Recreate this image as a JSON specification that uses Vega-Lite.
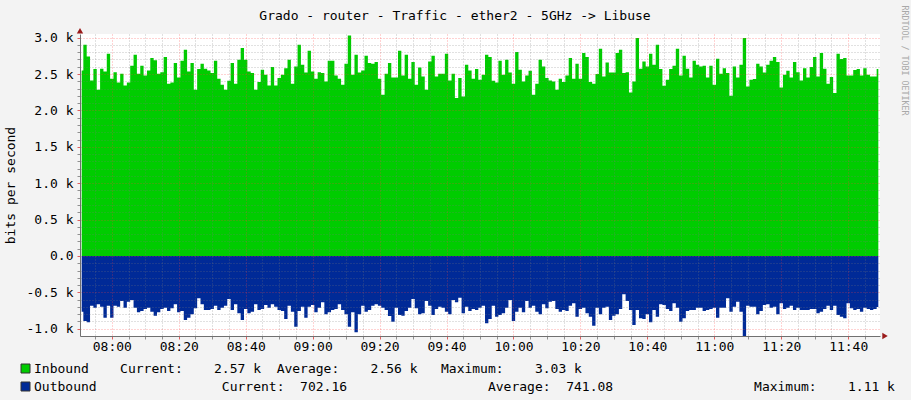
{
  "$schema": "https://vega.github.io/schema/vega-lite/v6.json",
  "description": "RRDtool style traffic graph: inbound above zero, outbound mirrored below.",
  "background": "#f3f3f3",
  "autosize": {"type": "none"},
  "padding": {"left": 80, "top": 34, "right": 31, "bottom": 64},
  "width": 800,
  "height": 302,
  "title": {
    "text": "Grado - router - Traffic - ether2 - 5GHz -> Libuse",
    "font": "DejaVu Sans Mono",
    "fontSize": 13,
    "fontWeight": "normal",
    "color": "#000000",
    "anchor": "middle",
    "frame": "group",
    "dx": -25,
    "dy": 28,
    "offset": 10
  },
  "data": {
    "values": [
      {"time": "2024-01-01T07:51", "inbound": 2549, "outbound": -766},
      {"time": "2024-01-01T07:52", "inbound": 2902, "outbound": -894},
      {"time": "2024-01-01T07:53", "inbound": 2742, "outbound": -912},
      {"time": "2024-01-01T07:54", "inbound": 2412, "outbound": -683},
      {"time": "2024-01-01T07:55", "inbound": 2568, "outbound": -711},
      {"time": "2024-01-01T07:56", "inbound": 2283, "outbound": -665},
      {"time": "2024-01-01T07:57", "inbound": 2572, "outbound": -697},
      {"time": "2024-01-01T07:58", "inbound": 2536, "outbound": -848},
      {"time": "2024-01-01T07:59", "inbound": 2779, "outbound": -683},
      {"time": "2024-01-01T08:00", "inbound": 2435, "outbound": -848},
      {"time": "2024-01-01T08:01", "inbound": 2526, "outbound": -683},
      {"time": "2024-01-01T08:02", "inbound": 2384, "outbound": -697},
      {"time": "2024-01-01T08:03", "inbound": 2503, "outbound": -619},
      {"time": "2024-01-01T08:04", "inbound": 2343, "outbound": -711},
      {"time": "2024-01-01T08:05", "inbound": 2384, "outbound": -628},
      {"time": "2024-01-01T08:06", "inbound": 2613, "outbound": -605},
      {"time": "2024-01-01T08:07", "inbound": 2765, "outbound": -711},
      {"time": "2024-01-01T08:08", "inbound": 2503, "outbound": -775},
      {"time": "2024-01-01T08:09", "inbound": 2613, "outbound": -757},
      {"time": "2024-01-01T08:10", "inbound": 2481, "outbound": -729},
      {"time": "2024-01-01T08:11", "inbound": 2549, "outbound": -711},
      {"time": "2024-01-01T08:12", "inbound": 2719, "outbound": -766},
      {"time": "2024-01-01T08:13", "inbound": 2691, "outbound": -821},
      {"time": "2024-01-01T08:14", "inbound": 2503, "outbound": -775},
      {"time": "2024-01-01T08:15", "inbound": 2526, "outbound": -729},
      {"time": "2024-01-01T08:16", "inbound": 2733, "outbound": -711},
      {"time": "2024-01-01T08:17", "inbound": 2366, "outbound": -757},
      {"time": "2024-01-01T08:18", "inbound": 2384, "outbound": -720},
      {"time": "2024-01-01T08:19", "inbound": 2650, "outbound": -665},
      {"time": "2024-01-01T08:20", "inbound": 2453, "outbound": -775},
      {"time": "2024-01-01T08:21", "inbound": 2682, "outbound": -757},
      {"time": "2024-01-01T08:22", "inbound": 2834, "outbound": -880},
      {"time": "2024-01-01T08:23", "inbound": 2536, "outbound": -848},
      {"time": "2024-01-01T08:24", "inbound": 2650, "outbound": -802},
      {"time": "2024-01-01T08:25", "inbound": 2283, "outbound": -720},
      {"time": "2024-01-01T08:26", "inbound": 2568, "outbound": -582},
      {"time": "2024-01-01T08:27", "inbound": 2641, "outbound": -665},
      {"time": "2024-01-01T08:28", "inbound": 2572, "outbound": -743},
      {"time": "2024-01-01T08:29", "inbound": 2549, "outbound": -743},
      {"time": "2024-01-01T08:30", "inbound": 2513, "outbound": -729},
      {"time": "2024-01-01T08:31", "inbound": 2682, "outbound": -683},
      {"time": "2024-01-01T08:32", "inbound": 2435, "outbound": -743},
      {"time": "2024-01-01T08:33", "inbound": 2352, "outbound": -711},
      {"time": "2024-01-01T08:34", "inbound": 2283, "outbound": -683},
      {"time": "2024-01-01T08:35", "inbound": 2407, "outbound": -592},
      {"time": "2024-01-01T08:36", "inbound": 2650, "outbound": -743},
      {"time": "2024-01-01T08:37", "inbound": 2366, "outbound": -665},
      {"time": "2024-01-01T08:38", "inbound": 2696, "outbound": -789},
      {"time": "2024-01-01T08:39", "inbound": 2857, "outbound": -880},
      {"time": "2024-01-01T08:40", "inbound": 2696, "outbound": -729},
      {"time": "2024-01-01T08:41", "inbound": 2536, "outbound": -789},
      {"time": "2024-01-01T08:42", "inbound": 2513, "outbound": -766},
      {"time": "2024-01-01T08:43", "inbound": 2283, "outbound": -665},
      {"time": "2024-01-01T08:44", "inbound": 2389, "outbound": -743},
      {"time": "2024-01-01T08:45", "inbound": 2559, "outbound": -729},
      {"time": "2024-01-01T08:46", "inbound": 2490, "outbound": -674},
      {"time": "2024-01-01T08:47", "inbound": 2343, "outbound": -711},
      {"time": "2024-01-01T08:48", "inbound": 2595, "outbound": -665},
      {"time": "2024-01-01T08:49", "inbound": 2343, "outbound": -697},
      {"time": "2024-01-01T08:50", "inbound": 2444, "outbound": -743},
      {"time": "2024-01-01T08:51", "inbound": 2490, "outbound": -757},
      {"time": "2024-01-01T08:52", "inbound": 2581, "outbound": -867},
      {"time": "2024-01-01T08:53", "inbound": 2696, "outbound": -683},
      {"time": "2024-01-01T08:54", "inbound": 2366, "outbound": -766},
      {"time": "2024-01-01T08:55", "inbound": 2604, "outbound": -972},
      {"time": "2024-01-01T08:56", "inbound": 2902, "outbound": -757},
      {"time": "2024-01-01T08:57", "inbound": 2627, "outbound": -697},
      {"time": "2024-01-01T08:58", "inbound": 2522, "outbound": -848},
      {"time": "2024-01-01T08:59", "inbound": 2820, "outbound": -697},
      {"time": "2024-01-01T09:00", "inbound": 2536, "outbound": -674},
      {"time": "2024-01-01T09:01", "inbound": 2435, "outbound": -775},
      {"time": "2024-01-01T09:02", "inbound": 2526, "outbound": -711},
      {"time": "2024-01-01T09:03", "inbound": 2513, "outbound": -637},
      {"time": "2024-01-01T09:04", "inbound": 2398, "outbound": -802},
      {"time": "2024-01-01T09:05", "inbound": 2682, "outbound": -775},
      {"time": "2024-01-01T09:06", "inbound": 2682, "outbound": -743},
      {"time": "2024-01-01T09:07", "inbound": 2481, "outbound": -729},
      {"time": "2024-01-01T09:08", "inbound": 2435, "outbound": -665},
      {"time": "2024-01-01T09:09", "inbound": 2352, "outbound": -743},
      {"time": "2024-01-01T09:10", "inbound": 2641, "outbound": -802},
      {"time": "2024-01-01T09:11", "inbound": 3031, "outbound": -972},
      {"time": "2024-01-01T09:12", "inbound": 2490, "outbound": -775},
      {"time": "2024-01-01T09:13", "inbound": 2765, "outbound": -1050},
      {"time": "2024-01-01T09:14", "inbound": 2522, "outbound": -802},
      {"time": "2024-01-01T09:15", "inbound": 2549, "outbound": -683},
      {"time": "2024-01-01T09:16", "inbound": 2751, "outbound": -766},
      {"time": "2024-01-01T09:17", "inbound": 2650, "outbound": -743},
      {"time": "2024-01-01T09:18", "inbound": 2641, "outbound": -683},
      {"time": "2024-01-01T09:19", "inbound": 2664, "outbound": -665},
      {"time": "2024-01-01T09:20", "inbound": 2435, "outbound": -683},
      {"time": "2024-01-01T09:21", "inbound": 2215, "outbound": -711},
      {"time": "2024-01-01T09:22", "inbound": 2503, "outbound": -743},
      {"time": "2024-01-01T09:23", "inbound": 2650, "outbound": -825},
      {"time": "2024-01-01T09:24", "inbound": 2453, "outbound": -903},
      {"time": "2024-01-01T09:25", "inbound": 2453, "outbound": -711},
      {"time": "2024-01-01T09:26", "inbound": 2820, "outbound": -812},
      {"time": "2024-01-01T09:27", "inbound": 2481, "outbound": -821},
      {"time": "2024-01-01T09:28", "inbound": 2765, "outbound": -757},
      {"time": "2024-01-01T09:29", "inbound": 2435, "outbound": -711},
      {"time": "2024-01-01T09:30", "inbound": 2664, "outbound": -592},
      {"time": "2024-01-01T09:31", "inbound": 2352, "outbound": -720},
      {"time": "2024-01-01T09:32", "inbound": 2591, "outbound": -802},
      {"time": "2024-01-01T09:33", "inbound": 2467, "outbound": -789},
      {"time": "2024-01-01T09:34", "inbound": 2283, "outbound": -619},
      {"time": "2024-01-01T09:35", "inbound": 2673, "outbound": -683},
      {"time": "2024-01-01T09:36", "inbound": 2751, "outbound": -812},
      {"time": "2024-01-01T09:37", "inbound": 2467, "outbound": -729},
      {"time": "2024-01-01T09:38", "inbound": 2503, "outbound": -697},
      {"time": "2024-01-01T09:39", "inbound": 2503, "outbound": -711},
      {"time": "2024-01-01T09:40", "inbound": 2779, "outbound": -766},
      {"time": "2024-01-01T09:41", "inbound": 2412, "outbound": -802},
      {"time": "2024-01-01T09:42", "inbound": 2503, "outbound": -605},
      {"time": "2024-01-01T09:43", "inbound": 2169, "outbound": -637},
      {"time": "2024-01-01T09:44", "inbound": 2444, "outbound": -573},
      {"time": "2024-01-01T09:45", "inbound": 2192, "outbound": -789},
      {"time": "2024-01-01T09:46", "inbound": 2627, "outbound": -697},
      {"time": "2024-01-01T09:47", "inbound": 2549, "outbound": -757},
      {"time": "2024-01-01T09:48", "inbound": 2435, "outbound": -729},
      {"time": "2024-01-01T09:49", "inbound": 2568, "outbound": -743},
      {"time": "2024-01-01T09:50", "inbound": 2421, "outbound": -711},
      {"time": "2024-01-01T09:51", "inbound": 2490, "outbound": -683},
      {"time": "2024-01-01T09:52", "inbound": 2765, "outbound": -926},
      {"time": "2024-01-01T09:53", "inbound": 2733, "outbound": -867},
      {"time": "2024-01-01T09:54", "inbound": 2407, "outbound": -683},
      {"time": "2024-01-01T09:55", "inbound": 2384, "outbound": -834},
      {"time": "2024-01-01T09:56", "inbound": 2682, "outbound": -812},
      {"time": "2024-01-01T09:57", "inbound": 2490, "outbound": -789},
      {"time": "2024-01-01T09:58", "inbound": 2696, "outbound": -711},
      {"time": "2024-01-01T09:59", "inbound": 2522, "outbound": -605},
      {"time": "2024-01-01T10:00", "inbound": 2366, "outbound": -894},
      {"time": "2024-01-01T10:01", "inbound": 2801, "outbound": -766},
      {"time": "2024-01-01T10:02", "inbound": 2559, "outbound": -711},
      {"time": "2024-01-01T10:03", "inbound": 2398, "outbound": -775},
      {"time": "2024-01-01T10:04", "inbound": 2481, "outbound": -619},
      {"time": "2024-01-01T10:05", "inbound": 2545, "outbound": -711},
      {"time": "2024-01-01T10:06", "inbound": 2215, "outbound": -683},
      {"time": "2024-01-01T10:07", "inbound": 2366, "outbound": -766},
      {"time": "2024-01-01T10:08", "inbound": 2696, "outbound": -802},
      {"time": "2024-01-01T10:09", "inbound": 2604, "outbound": -665},
      {"time": "2024-01-01T10:10", "inbound": 2444, "outbound": -720},
      {"time": "2024-01-01T10:11", "inbound": 2412, "outbound": -628},
      {"time": "2024-01-01T10:12", "inbound": 2398, "outbound": -619},
      {"time": "2024-01-01T10:13", "inbound": 2283, "outbound": -729},
      {"time": "2024-01-01T10:14", "inbound": 2435, "outbound": -766},
      {"time": "2024-01-01T10:15", "inbound": 2389, "outbound": -743},
      {"time": "2024-01-01T10:16", "inbound": 2481, "outbound": -757},
      {"time": "2024-01-01T10:17", "inbound": 2719, "outbound": -683},
      {"time": "2024-01-01T10:18", "inbound": 2435, "outbound": -651},
      {"time": "2024-01-01T10:19", "inbound": 2641, "outbound": -834},
      {"time": "2024-01-01T10:20", "inbound": 2435, "outbound": -729},
      {"time": "2024-01-01T10:21", "inbound": 2788, "outbound": -711},
      {"time": "2024-01-01T10:22", "inbound": 2733, "outbound": -789},
      {"time": "2024-01-01T10:23", "inbound": 2389, "outbound": -834},
      {"time": "2024-01-01T10:24", "inbound": 2366, "outbound": -958},
      {"time": "2024-01-01T10:25", "inbound": 2499, "outbound": -711},
      {"time": "2024-01-01T10:26", "inbound": 2847, "outbound": -802},
      {"time": "2024-01-01T10:27", "inbound": 2467, "outbound": -711},
      {"time": "2024-01-01T10:28", "inbound": 2659, "outbound": -697},
      {"time": "2024-01-01T10:29", "inbound": 2522, "outbound": -880},
      {"time": "2024-01-01T10:30", "inbound": 2522, "outbound": -821},
      {"time": "2024-01-01T10:31", "inbound": 2788, "outbound": -802},
      {"time": "2024-01-01T10:32", "inbound": 2834, "outbound": -729},
      {"time": "2024-01-01T10:33", "inbound": 2513, "outbound": -527},
      {"time": "2024-01-01T10:34", "inbound": 2526, "outbound": -619},
      {"time": "2024-01-01T10:35", "inbound": 2247, "outbound": -743},
      {"time": "2024-01-01T10:36", "inbound": 2398, "outbound": -949},
      {"time": "2024-01-01T10:37", "inbound": 2994, "outbound": -743},
      {"time": "2024-01-01T10:38", "inbound": 2572, "outbound": -857},
      {"time": "2024-01-01T10:39", "inbound": 2673, "outbound": -867},
      {"time": "2024-01-01T10:40", "inbound": 2604, "outbound": -802},
      {"time": "2024-01-01T10:41", "inbound": 2779, "outbound": -912},
      {"time": "2024-01-01T10:42", "inbound": 2627, "outbound": -743},
      {"time": "2024-01-01T10:43", "inbound": 2902, "outbound": -834},
      {"time": "2024-01-01T10:44", "inbound": 2568, "outbound": -665},
      {"time": "2024-01-01T10:45", "inbound": 2338, "outbound": -674},
      {"time": "2024-01-01T10:46", "inbound": 2421, "outbound": -729},
      {"time": "2024-01-01T10:47", "inbound": 2568, "outbound": -757},
      {"time": "2024-01-01T10:48", "inbound": 2613, "outbound": -651},
      {"time": "2024-01-01T10:49", "inbound": 2847, "outbound": -711},
      {"time": "2024-01-01T10:50", "inbound": 2481, "outbound": -903},
      {"time": "2024-01-01T10:51", "inbound": 2751, "outbound": -857},
      {"time": "2024-01-01T10:52", "inbound": 2572, "outbound": -757},
      {"time": "2024-01-01T10:53", "inbound": 2453, "outbound": -743},
      {"time": "2024-01-01T10:54", "inbound": 2682, "outbound": -743},
      {"time": "2024-01-01T10:55", "inbound": 2627, "outbound": -711},
      {"time": "2024-01-01T10:56", "inbound": 2604, "outbound": -711},
      {"time": "2024-01-01T10:57", "inbound": 2613, "outbound": -757},
      {"time": "2024-01-01T10:58", "inbound": 2453, "outbound": -743},
      {"time": "2024-01-01T10:59", "inbound": 2613, "outbound": -729},
      {"time": "2024-01-01T11:00", "inbound": 2352, "outbound": -711},
      {"time": "2024-01-01T11:01", "inbound": 2710, "outbound": -848},
      {"time": "2024-01-01T11:02", "inbound": 2503, "outbound": -711},
      {"time": "2024-01-01T11:03", "inbound": 2581, "outbound": -711},
      {"time": "2024-01-01T11:04", "inbound": 2513, "outbound": -582},
      {"time": "2024-01-01T11:05", "inbound": 2201, "outbound": -766},
      {"time": "2024-01-01T11:06", "inbound": 2604, "outbound": -697},
      {"time": "2024-01-01T11:07", "inbound": 2453, "outbound": -628},
      {"time": "2024-01-01T11:08", "inbound": 2627, "outbound": -766},
      {"time": "2024-01-01T11:09", "inbound": 2994, "outbound": -1110},
      {"time": "2024-01-01T11:10", "inbound": 2329, "outbound": -683},
      {"time": "2024-01-01T11:11", "inbound": 2421, "outbound": -697},
      {"time": "2024-01-01T11:12", "inbound": 2430, "outbound": -697},
      {"time": "2024-01-01T11:13", "inbound": 2641, "outbound": -802},
      {"time": "2024-01-01T11:14", "inbound": 2604, "outbound": -757},
      {"time": "2024-01-01T11:15", "inbound": 2522, "outbound": -674},
      {"time": "2024-01-01T11:16", "inbound": 2627, "outbound": -665},
      {"time": "2024-01-01T11:17", "inbound": 2682, "outbound": -711},
      {"time": "2024-01-01T11:18", "inbound": 2733, "outbound": -697},
      {"time": "2024-01-01T11:19", "inbound": 2664, "outbound": -802},
      {"time": "2024-01-01T11:20", "inbound": 2315, "outbound": -651},
      {"time": "2024-01-01T11:21", "inbound": 2490, "outbound": -729},
      {"time": "2024-01-01T11:22", "inbound": 2545, "outbound": -711},
      {"time": "2024-01-01T11:23", "inbound": 2453, "outbound": -683},
      {"time": "2024-01-01T11:24", "inbound": 2664, "outbound": -743},
      {"time": "2024-01-01T11:25", "inbound": 2526, "outbound": -711},
      {"time": "2024-01-01T11:26", "inbound": 2412, "outbound": -743},
      {"time": "2024-01-01T11:27", "inbound": 2581, "outbound": -743},
      {"time": "2024-01-01T11:28", "inbound": 2453, "outbound": -743},
      {"time": "2024-01-01T11:29", "inbound": 2595, "outbound": -729},
      {"time": "2024-01-01T11:30", "inbound": 2733, "outbound": -729},
      {"time": "2024-01-01T11:31", "inbound": 2467, "outbound": -789},
      {"time": "2024-01-01T11:32", "inbound": 2788, "outbound": -766},
      {"time": "2024-01-01T11:33", "inbound": 2572, "outbound": -729},
      {"time": "2024-01-01T11:34", "inbound": 2366, "outbound": -683},
      {"time": "2024-01-01T11:35", "inbound": 2458, "outbound": -743},
      {"time": "2024-01-01T11:36", "inbound": 2238, "outbound": -683},
      {"time": "2024-01-01T11:37", "inbound": 2779, "outbound": -812},
      {"time": "2024-01-01T11:38", "inbound": 2705, "outbound": -834},
      {"time": "2024-01-01T11:39", "inbound": 2719, "outbound": -857},
      {"time": "2024-01-01T11:40", "inbound": 2481, "outbound": -651},
      {"time": "2024-01-01T11:41", "inbound": 2481, "outbound": -720},
      {"time": "2024-01-01T11:42", "inbound": 2554, "outbound": -743},
      {"time": "2024-01-01T11:43", "inbound": 2568, "outbound": -729},
      {"time": "2024-01-01T11:44", "inbound": 2481, "outbound": -766},
      {"time": "2024-01-01T11:45", "inbound": 2581, "outbound": -711},
      {"time": "2024-01-01T11:46", "inbound": 2490, "outbound": -729},
      {"time": "2024-01-01T11:47", "inbound": 2467, "outbound": -743},
      {"time": "2024-01-01T11:48", "inbound": 2467, "outbound": -729},
      {"time": "2024-01-01T11:49", "inbound": 2570, "outbound": -702}
    ]
  },
  "layer": [
    {
      "mark": {"type": "area", "interpolate": "step", "opacity": 1},
      "encoding": {
        "x": {
          "field": "time",
          "type": "temporal",
          "title": null,
          "scale": {
            "domain": [
              {"year": 2024, "month": 1, "date": 1, "hours": 7, "minutes": 50, "seconds": 30},
              {"year": 2024, "month": 1, "date": 1, "hours": 11, "minutes": 49, "seconds": 30}
            ],
            "nice": false
          },
          "axis": {
            "values": [
              {"year": 2024, "month": 1, "date": 1, "hours": 7, "minutes": 55},
              {"year": 2024, "month": 1, "date": 1, "hours": 8, "minutes": 0},
              {"year": 2024, "month": 1, "date": 1, "hours": 8, "minutes": 5},
              {"year": 2024, "month": 1, "date": 1, "hours": 8, "minutes": 10},
              {"year": 2024, "month": 1, "date": 1, "hours": 8, "minutes": 15},
              {"year": 2024, "month": 1, "date": 1, "hours": 8, "minutes": 20},
              {"year": 2024, "month": 1, "date": 1, "hours": 8, "minutes": 25},
              {"year": 2024, "month": 1, "date": 1, "hours": 8, "minutes": 30},
              {"year": 2024, "month": 1, "date": 1, "hours": 8, "minutes": 35},
              {"year": 2024, "month": 1, "date": 1, "hours": 8, "minutes": 40},
              {"year": 2024, "month": 1, "date": 1, "hours": 8, "minutes": 45},
              {"year": 2024, "month": 1, "date": 1, "hours": 8, "minutes": 50},
              {"year": 2024, "month": 1, "date": 1, "hours": 8, "minutes": 55},
              {"year": 2024, "month": 1, "date": 1, "hours": 9, "minutes": 0},
              {"year": 2024, "month": 1, "date": 1, "hours": 9, "minutes": 5},
              {"year": 2024, "month": 1, "date": 1, "hours": 9, "minutes": 10},
              {"year": 2024, "month": 1, "date": 1, "hours": 9, "minutes": 15},
              {"year": 2024, "month": 1, "date": 1, "hours": 9, "minutes": 20},
              {"year": 2024, "month": 1, "date": 1, "hours": 9, "minutes": 25},
              {"year": 2024, "month": 1, "date": 1, "hours": 9, "minutes": 30},
              {"year": 2024, "month": 1, "date": 1, "hours": 9, "minutes": 35},
              {"year": 2024, "month": 1, "date": 1, "hours": 9, "minutes": 40},
              {"year": 2024, "month": 1, "date": 1, "hours": 9, "minutes": 45},
              {"year": 2024, "month": 1, "date": 1, "hours": 9, "minutes": 50},
              {"year": 2024, "month": 1, "date": 1, "hours": 9, "minutes": 55},
              {"year": 2024, "month": 1, "date": 1, "hours": 10, "minutes": 0},
              {"year": 2024, "month": 1, "date": 1, "hours": 10, "minutes": 5},
              {"year": 2024, "month": 1, "date": 1, "hours": 10, "minutes": 10},
              {"year": 2024, "month": 1, "date": 1, "hours": 10, "minutes": 15},
              {"year": 2024, "month": 1, "date": 1, "hours": 10, "minutes": 20},
              {"year": 2024, "month": 1, "date": 1, "hours": 10, "minutes": 25},
              {"year": 2024, "month": 1, "date": 1, "hours": 10, "minutes": 30},
              {"year": 2024, "month": 1, "date": 1, "hours": 10, "minutes": 35},
              {"year": 2024, "month": 1, "date": 1, "hours": 10, "minutes": 40},
              {"year": 2024, "month": 1, "date": 1, "hours": 10, "minutes": 45},
              {"year": 2024, "month": 1, "date": 1, "hours": 10, "minutes": 50},
              {"year": 2024, "month": 1, "date": 1, "hours": 10, "minutes": 55},
              {"year": 2024, "month": 1, "date": 1, "hours": 11, "minutes": 0},
              {"year": 2024, "month": 1, "date": 1, "hours": 11, "minutes": 5},
              {"year": 2024, "month": 1, "date": 1, "hours": 11, "minutes": 10},
              {"year": 2024, "month": 1, "date": 1, "hours": 11, "minutes": 15},
              {"year": 2024, "month": 1, "date": 1, "hours": 11, "minutes": 20},
              {"year": 2024, "month": 1, "date": 1, "hours": 11, "minutes": 25},
              {"year": 2024, "month": 1, "date": 1, "hours": 11, "minutes": 30},
              {"year": 2024, "month": 1, "date": 1, "hours": 11, "minutes": 35},
              {"year": 2024, "month": 1, "date": 1, "hours": 11, "minutes": 40},
              {"year": 2024, "month": 1, "date": 1, "hours": 11, "minutes": 45}
            ],
            "labelExpr": "minutes(datum.value) % 20 == 0 ? timeFormat(datum.value, '%H:%M') : ''",
            "labelOverlap": false,
            "labelFlush": false,
            "labelPadding": 1,
            "tickSize": 3,
            "tickColor": {"condition": {"test": "minutes(datum.value) % 20 == 0", "value": "#e06060"}, "value": "#909090"},
            "gridColor": {"condition": {"test": "minutes(datum.value) % 20 == 0", "value": "rgba(255,60,60,0.45)"}, "value": "rgba(120,120,120,0.45)"},
            "gridDash": [1, 2],
            "zindex": 1
          }
        },
        "y": {
          "field": "inbound",
          "type": "quantitative",
          "scale": {"domain": [-1100, 3050], "nice": false, "zero": false},
          "axis": {
            "title": "bits per second",
            "values": [-1000, -900, -800, -700, -600, -500, -400, -300, -200, -100, 0, 100, 200, 300, 400, 500, 600, 700, 800, 900, 1000, 1100, 1200, 1300, 1400, 1500, 1600, 1700, 1800, 1900, 2000, 2100, 2200, 2300, 2400, 2500, 2600, 2700, 2800, 2900, 3000],
            "labelExpr": "datum.value % 500 == 0 ? (datum.value == 0 ? '0.0' : (datum.value < 0 ? '-' : '') + format(abs(datum.value) / 1000, '.1f') + ' k') : ''",
            "labelOverlap": false,
            "labelPadding": 4,
            "tickSize": 3,
            "tickColor": {"condition": {"test": "datum.value % 500 == 0", "value": "#e06060"}, "value": "#909090"},
            "gridColor": {"condition": {"test": "datum.value % 500 == 0", "value": "rgba(255,60,60,0.45)"}, "value": "rgba(120,120,120,0.45)"},
            "gridDash": [1, 2],
            "titlePadding": 9,
            "zindex": 1
          }
        },
        "color": {
          "datum": "Inbound",
          "type": "nominal",
          "scale": {"domain": ["Inbound", "Outbound"], "range": ["#00CC00", "#002A97"]},
          "legend": {
            "orient": "none",
            "legendX": -61,
            "legendY": 328,
            "direction": "vertical",
            "title": null,
            "symbolType": "square",
            "symbolSize": 81,
            "symbolStrokeColor": "#333333",
            "symbolStrokeWidth": 1,
            "symbolOpacity": 1,
            "labelFont": "DejaVu Sans Mono",
            "labelFontSize": 13,
            "labelColor": "#000000",
            "labelLimit": 0,
            "labelOffset": 2,
            "rowPadding": 4,
            "labelExpr": "datum.label == 'Inbound' ? 'Inbound\u00a0\u00a0\u00a0\u00a0Current:\u00a0\u00a0\u00a0\u00a02.57\u00a0k\u00a0\u00a0Average:\u00a0\u00a0\u00a0\u00a02.56\u00a0k\u00a0\u00a0\u00a0Maximum:\u00a0\u00a0\u00a0\u00a03.03\u00a0k' : 'Outbound\u00a0\u00a0\u00a0\u00a0\u00a0\u00a0\u00a0\u00a0\u00a0\u00a0\u00a0\u00a0\u00a0\u00a0\u00a0\u00a0Current:\u00a0\u00a0702.16\u00a0\u00a0\u00a0\u00a0\u00a0\u00a0\u00a0\u00a0\u00a0\u00a0\u00a0\u00a0\u00a0\u00a0\u00a0\u00a0\u00a0\u00a0Average:\u00a0\u00a0741.08\u00a0\u00a0\u00a0\u00a0\u00a0\u00a0\u00a0\u00a0\u00a0\u00a0\u00a0\u00a0\u00a0\u00a0\u00a0\u00a0\u00a0\u00a0Maximum:\u00a0\u00a0\u00a0\u00a01.11\u00a0k'"
          }
        }
      }
    },
    {
      "mark": {"type": "area", "interpolate": "step", "opacity": 1},
      "encoding": {
        "x": {"field": "time", "type": "temporal", "axis": null},
        "y": {
          "field": "outbound",
          "type": "quantitative",
          "scale": {"domain": [-1100, 3050], "nice": false, "zero": false},
          "axis": {
            "orient": "right",
            "title": "RRDTOOL / TOBI OETIKER",
            "labels": false,
            "ticks": false,
            "grid": false,
            "domain": false,
            "titleAngle": 90,
            "titleFontSize": 8.3,
            "titleColor": "#a8a8a8",
            "titleAlign": "left",
            "titleBaseline": "middle",
            "titleX": 23,
            "titleY": -29
          }
        },
        "color": {"datum": "Outbound", "type": "nominal"}
      }
    },
    {
      "data": {"values": [{}]},
      "mark": {"type": "point", "shape": "triangle-up", "filled": true, "size": 40, "color": "#9a1a1a", "opacity": 1},
      "encoding": {
        "x": {"datum": {"year": 2024, "month": 1, "date": 1, "hours": 7, "minutes": 50, "seconds": 30}, "type": "temporal", "axis": null},
        "y": {"datum": 3095, "type": "quantitative", "axis": null}
      }
    },
    {
      "data": {"values": [{}]},
      "mark": {"type": "point", "shape": "triangle-right", "filled": true, "size": 40, "color": "#9a1a1a", "opacity": 1},
      "encoding": {
        "x": {"datum": {"year": 2024, "month": 1, "date": 1, "hours": 11, "minutes": 51, "seconds": 0}, "type": "temporal", "axis": null},
        "y": {"datum": -1100, "type": "quantitative", "axis": null}
      }
    }
  ],
  "resolve": {"axis": {"x": "independent", "y": "independent"}},
  "config": {
    "view": {"fill": "#ffffff", "stroke": null},
    "axis": {
      "labelFont": "DejaVu Sans Mono",
      "labelFontSize": 13,
      "labelColor": "#000000",
      "titleFont": "DejaVu Sans Mono",
      "titleFontSize": 13,
      "titleFontWeight": "normal",
      "titleColor": "#000000",
      "domainColor": "#707070"
    }
  }
}
